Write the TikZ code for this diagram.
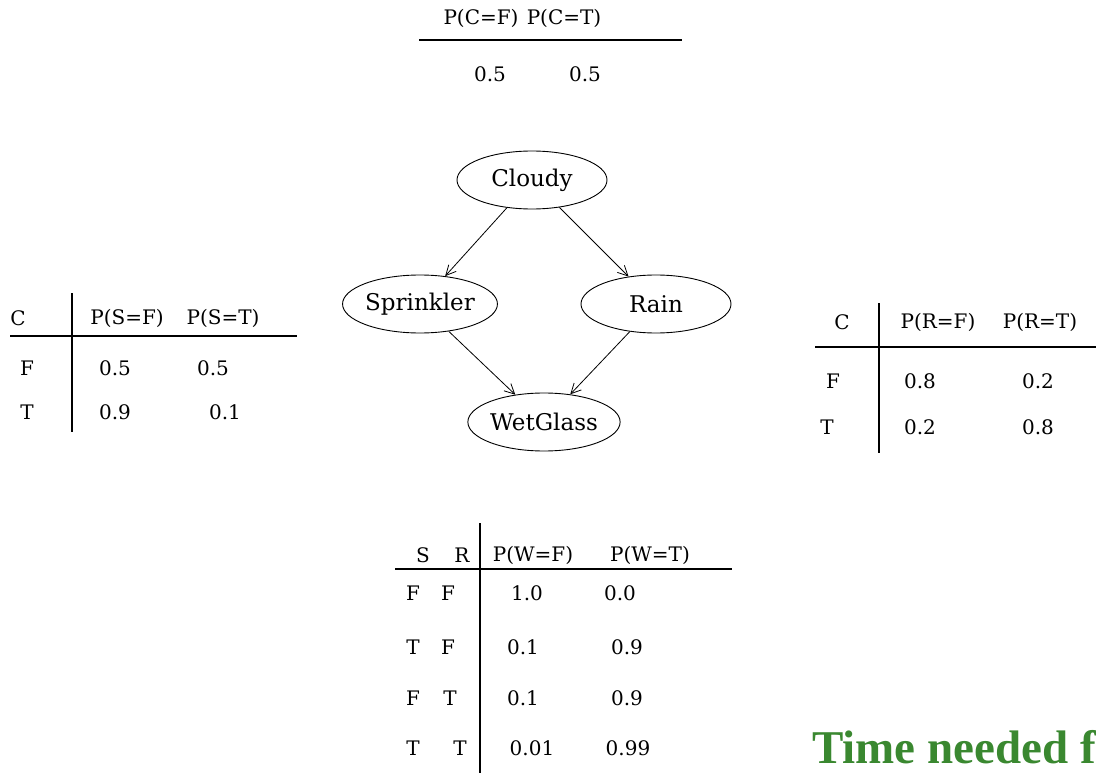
\documentclass[tikz,border=0pt]{standalone}
\usepackage{fontspec}
\setmainfont{DejaVu Serif}
\newfontfamily\timesbold{Liberation Serif}
\usetikzlibrary{shapes.geometric,arrows.meta}

\definecolor{timegreen}{RGB}{58,136,48}

\tikzset{
  var/.style={ellipse, draw, line width=0.9pt, minimum width=150pt, minimum height=58pt,
    inner sep=0pt, font=\fontsize{23}{26}\selectfont},
  cpt/.style={inner sep=0pt, font=\fontsize{20}{24}\selectfont},
  tabrule/.style={line width=1.6pt},
  dep/.style={-{Straight Barb[length=10pt,width=10pt]}, line width=0.8pt},
}

\begin{document}
\begin{tikzpicture}[x=1pt,y=-1pt]
  \useasboundingbox[fill=white] (0,0) rectangle (1096,773);

  % the network
  \node[var] (cloudy) at (532,180) {Cloudy};
  \node[var] (sprinkler) at (420,304) {Sprinkler};
  \node[var] (rain) at (656,304) {Rain};
  \node[var] (wetglass) at (544,422) {WetGlass};
  \draw [dep] (cloudy) -- (sprinkler);
  \draw [dep] (cloudy) -- (rain);
  \draw [dep] (sprinkler) -- (wetglass);
  \draw [dep] (rain) -- (wetglass);

  % P(C)
  \node[cpt] (pcf) at (481,18) {P(C=F)};
  \node[cpt] (pct) at (564,18) {P(C=T)};
  \draw [tabrule] (419,40) -- (682,40);
  \node[cpt] (c1) at (490,74) {0.5};
  \node[cpt] (c2) at (585,74) {0.5};

  % P(S|C)
  \node[cpt] (sc) at (18,318) {C};
  \node[cpt] (psf) at (127,318) {P(S=F)};
  \node[cpt] (pst) at (223,318) {P(S=T)};
  \draw [tabrule] (10,336) -- (297,336);
  \draw [tabrule] (72,293) -- (72,432);
  \node[cpt] (sf) at (27,368) {F};
  \node[cpt] (sf1) at (115,368) {0.5};
  \node[cpt] (sf2) at (213,368) {0.5};
  \node[cpt] (st) at (27,412) {T};
  \node[cpt] (st1) at (115,412) {0.9};
  \node[cpt] (st2) at (225,412) {0.1};

  % P(R|C)
  \node[cpt] (rc) at (842,322) {C};
  \node[cpt] (prf) at (938,322) {P(R=F)};
  \node[cpt] (prt) at (1040,322) {P(R=T)};
  \draw [tabrule] (815,347) -- (1096,347);
  \draw [tabrule] (879,303) -- (879,453);
  \node[cpt] (rf) at (833,381) {F};
  \node[cpt] (rf1) at (920,381) {0.8};
  \node[cpt] (rf2) at (1038,381) {0.2};
  \node[cpt] (rt) at (827,427) {T};
  \node[cpt] (rt1) at (920,427) {0.2};
  \node[cpt] (rt2) at (1038,427) {0.8};

  % P(W|S,R)
  \node[cpt] (ws) at (423,555) {S};
  \node[cpt] (wr) at (462,555) {R};
  \node[cpt] (pwf) at (533,555) {P(W=F)};
  \node[cpt] (pwt) at (650,555) {P(W=T)};
  \draw [tabrule] (395,569) -- (732,569);
  \draw [tabrule] (480,523) -- (480,773);
  \node[cpt] (w1s) at (413,593) {F};
  \node[cpt] (w1r) at (448,593) {F};
  \node[cpt] (w1a) at (527,593) {1.0};
  \node[cpt] (w1b) at (620,593) {0.0};
  \node[cpt] (w2s) at (413,647) {T};
  \node[cpt] (w2r) at (448,647) {F};
  \node[cpt] (w2a) at (523,647) {0.1};
  \node[cpt] (w2b) at (627,647) {0.9};
  \node[cpt] (w3s) at (413,698) {F};
  \node[cpt] (w3r) at (450,698) {T};
  \node[cpt] (w3a) at (523,698) {0.1};
  \node[cpt] (w3b) at (627,698) {0.9};
  \node[cpt] (w4s) at (413,748) {T};
  \node[cpt] (w4r) at (460,748) {T};
  \node[cpt] (w4a) at (532,748) {0.01};
  \node[cpt] (w4b) at (628,748) {0.99};

  \node[anchor=base west, inner sep=0pt, text=timegreen,
    font=\timesbold\fontsize{47}{50}\selectfont\bfseries] (timing) at (812,763) {Time needed f};
\end{tikzpicture}
\end{document}
